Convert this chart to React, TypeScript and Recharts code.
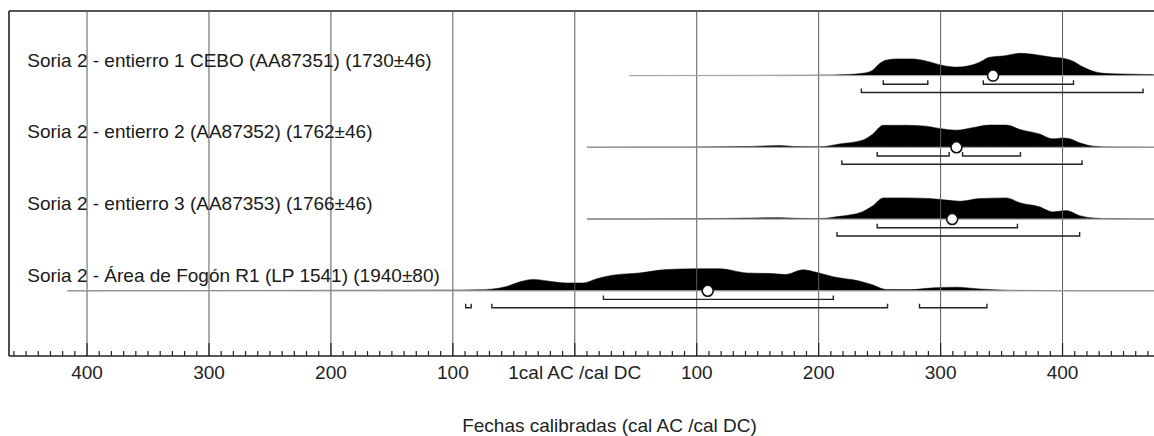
import React from 'react';
import { ComposedChart, XAxis, YAxis, Area, Line, Scatter, ReferenceLine } from 'recharts';

const FONT = "'Liberation Sans', Arial, Helvetica, sans-serif";

// ---- data ----
const ROW_LABELS = [
  'Soria 2 - entierro 1 CEBO (AA87351) (1730±46)',
  'Soria 2 - entierro 2 (AA87352) (1762±46)',
  'Soria 2 - entierro 3 (AA87353) (1766±46)',
  'Soria 2 - Área de Fogón R1 (LP 1541) (1940±80)',
];
// start of the low-probability tail line (years, BC negative)
const TAIL_START = [45, 10, 10, -416];
const MEDIANS = [343, 313, 309.5, 109];
const RANGES_68: number[][][] = [
  [[253, 289.5], [335, 409]],
  [[248, 307], [318, 365.5]],
  [[248, 363]],
  [[23.5, 212]],
];
const RANGES_95: number[][][] = [
  [[235, 466]],
  [[219, 416]],
  [[215, 414]],
  [[-89.5, -85], [-68, 256.5], [282.7, 338]],
];
// relative probability (peak = 100)
const DENS_1 = [[45,0],[150,1],[200,2],[225,5],[236,10],[244,23],[250,54],[255,69],[264,75],[277,75],[285,69],[294,57],[302,45],[313,38],[324,45],[332,60],[340,82],[351,88],[365,100],[378,94],[392,82],[403,75],[408,66],[417,38],[428,15],[441,8],[469,5],[475,4]];
const DENS_2 = [[10,0],[100,1],[140,3],[168,8],[182,3],[201,2],[217,15],[236,32],[244,58],[253,99],[272,99],[288,95],[299,85],[313,77],[326,88],[340,100],[354,100],[365,80],[381,60],[392,38],[400,42],[406,38],[414,20],[425,5],[441,1],[475,0]];
const DENS_3 = [[10,0],[100,1],[140,4],[168,6],[182,3],[201,2],[217,12],[236,33],[244,58],[253,95],[272,95],[291,92],[305,85],[316,80],[332,92],[354,95],[365,73],[381,55],[392,32],[403,38],[414,15],[425,5],[441,1],[475,0]];
const DENS_4 = [[-416,0],[-300,1],[-200,2],[-100,3],[-80,4],[-67,8],[-56,19],[-45,40],[-34,51],[-21,43],[-7,35],[7,35],[18,54],[31,70],[53,80],[75,95],[100,99],[119,99],[141,80],[162,77],[173,73],[187,94],[198,83],[212,63],[234,43],[244,27],[255,6],[275,5],[294,13],[313,16],[332,8],[357,2],[384,1],[420,0],[475,0]];
const DENSITIES = [DENS_1, DENS_2, DENS_3, DENS_4];

const GRID_YEARS = [-400, -300, -200, -100, 0, 100, 200, 300, 400];
const TICK_LABELS = ['400', '300', '200', '100', '1cal AC /cal DC', '100', '200', '300', '400'];
const AXIS_TITLE = 'Fechas calibradas (cal AC /cal DC)';

// ---- layout ----
const X_MIN = -464;
const X_MAX = 475;
const Y_MAX = 4.81;
const ROW0 = 3.91;
const H_SCALE = 0.31 / 100;
const OFF_68 = 0.121;
const OFF_95 = 0.237;
const UPTICK = 0.056;
const LABEL_X = -449;
const MINOR_TICKS = Array.from({ length: 94 }, (_, i) => -460 + i * 10);

const rowBase = (i: number) => ROW0 - i;

const AxisTick = (props: any) => {
  const { x, y, payload } = props;
  const gi = GRID_YEARS.indexOf(payload.value);
  const major = gi >= 0;
  return (
    <g>
      <line x1={x} x2={x} y1={y} y2={y - (major ? 13 : 5)} stroke="#222" strokeWidth={1.2} />
      {major && (
        <text x={x} y={y + 23} textAnchor="middle" fontSize={19} fill="#222" fontFamily={FONT}>
          {TICK_LABELS[gi]}
        </text>
      )}
    </g>
  );
};

const bracket = (a: number, b: number, yb: number) => [
  { x: a, y: yb + UPTICK },
  { x: a, y: yb },
  { x: b, y: yb },
  { x: b, y: yb + UPTICK },
];

export default function App() {
  const labelData = ROW_LABELS.map((label, i) => ({ x: LABEL_X, y: rowBase(i), label }));
  const medianData = MEDIANS.map((m, i) => ({ x: m, y: rowBase(i) }));
  return (
    <div style={{ position: 'absolute', left: 0, top: 0, width: 1154, height: 436, background: '#fff', fontFamily: FONT }}>
      <ComposedChart width={1154} height={436} margin={{ top: 11, right: 0, bottom: 0, left: 9 }}>
        <XAxis
          dataKey="x"
          type="number"
          domain={[X_MIN, X_MAX]}
          allowDataOverflow
          ticks={MINOR_TICKS}
          interval={0}
          tick={<AxisTick />}
          tickLine={false}
          tickSize={0}
          tickMargin={0}
          height={80}
          axisLine={{ stroke: '#222', strokeWidth: 1.6 }}
          label={{
            content: (p: any) => {
              const vb = p.viewBox || { x: 9, y: 356, width: 1145 };
              return (
                <text x={vb.x + vb.width / 2 + 28} y={vb.y + 76} textAnchor="middle" fontSize={19} fill="#222" fontFamily={FONT}>
                  {AXIS_TITLE}
                </text>
              );
            },
          }}
        />
        <YAxis
          dataKey="y"
          type="number"
          domain={[0, Y_MAX]}
          allowDataOverflow
          width={0}
          tick={false}
          tickLine={false}
          axisLine={false}
        />
        <ReferenceLine y={Y_MAX} stroke="#555" strokeWidth={2} />
        <ReferenceLine x={X_MIN} stroke="#222" strokeWidth={1.6} />
        {GRID_YEARS.map((g) => (
          <ReferenceLine key={'g' + g} x={g} stroke="#5a5a5a" strokeWidth={1} />
        ))}
        {TAIL_START.map((s, i) => (
          <Line
            key={'t' + i}
            data={[{ x: s, y: rowBase(i) }, { x: X_MAX, y: rowBase(i) }]}
            dataKey="y"
            stroke="#aaa"
            strokeWidth={1}
            dot={false}
            activeDot={false}
            isAnimationActive={false}
          />
        ))}
        {DENSITIES.map((d, i) => (
          <Area
            key={'d' + i}
            data={d.map(([x, p]) => ({ x, y: [rowBase(i), rowBase(i) + p * H_SCALE] }))}
            dataKey="y"
            type="monotone"
            fill="#000"
            fillOpacity={1}
            stroke="#000"
            strokeWidth={0.5}
            dot={false}
            activeDot={false}
            isAnimationActive={false}
          />
        ))}
        {RANGES_68.map((rs, i) =>
          rs.map((r, j) => (
            <Line
              key={'r68' + i + '-' + j}
              data={bracket(r[0], r[1], rowBase(i) - OFF_68)}
              dataKey="y"
              stroke="#222"
              strokeWidth={1.4}
              dot={false}
              activeDot={false}
              isAnimationActive={false}
            />
          ))
        )}
        {RANGES_95.map((rs, i) =>
          rs.map((r, j) => (
            <Line
              key={'r95' + i + '-' + j}
              data={bracket(r[0], r[1], rowBase(i) - OFF_95)}
              dataKey="y"
              stroke="#222"
              strokeWidth={1.4}
              dot={false}
              activeDot={false}
              isAnimationActive={false}
            />
          ))
        )}
        <Scatter
          data={medianData}
          dataKey="y"
          isAnimationActive={false}
          shape={(p: any) => <circle cx={p.cx} cy={p.cy} r={5.5} fill="#fff" stroke="#111" strokeWidth={1.6} />}
        />
        <Scatter
          data={labelData}
          dataKey="y"
          isAnimationActive={false}
          shape={(p: any) => (
            <text x={p.cx} y={p.cy - 9} fontSize={19} fill="#1a1a1a" fontFamily={FONT}>
              {p.payload.label}
            </text>
          )}
        />
      </ComposedChart>
    </div>
  );
}
